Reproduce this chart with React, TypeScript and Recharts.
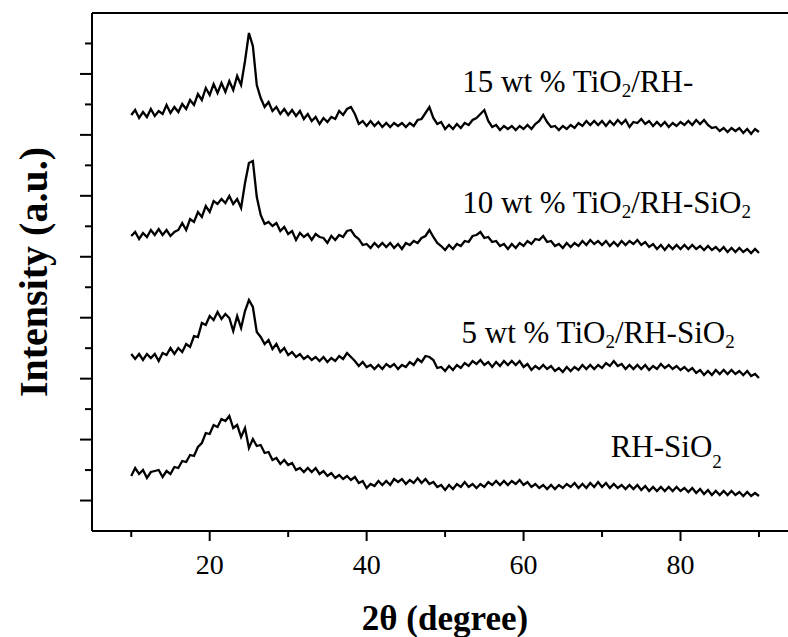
import { LineChart, Line, XAxis, YAxis, ReferenceLine, ReferenceDot } from "recharts";

// 2θ positions (degree), one reading every half degree
const twoTheta = [
  10, 10.5, 11, 11.5, 12, 12.5, 13, 13.5, 14, 14.5,
  15, 15.5, 16, 16.5, 17, 17.5, 18, 18.5, 19, 19.5,
  20, 20.5, 21, 21.5, 22, 22.5, 23, 23.5, 24, 24.5,
  25, 25.5, 26, 26.5, 27, 27.5, 28, 28.5, 29, 29.5,
  30, 30.5, 31, 31.5, 32, 32.5, 33, 33.5, 34, 34.5,
  35, 35.5, 36, 36.5, 37, 37.5, 38, 38.5, 39, 39.5,
  40, 40.5, 41, 41.5, 42, 42.5, 43, 43.5, 44, 44.5,
  45, 45.5, 46, 46.5, 47, 47.5, 48, 48.5, 49, 49.5,
  50, 50.5, 51, 51.5, 52, 52.5, 53, 53.5, 54, 54.5,
  55, 55.5, 56, 56.5, 57, 57.5, 58, 58.5, 59, 59.5,
  60, 60.5, 61, 61.5, 62, 62.5, 63, 63.5, 64, 64.5,
  65, 65.5, 66, 66.5, 67, 67.5, 68, 68.5, 69, 69.5,
  70, 70.5, 71, 71.5, 72, 72.5, 73, 73.5, 74, 74.5,
  75, 75.5, 76, 76.5, 77, 77.5, 78, 78.5, 79, 79.5,
  80, 80.5, 81, 81.5, 82, 82.5, 83, 83.5, 84, 84.5,
  85, 85.5, 86, 86.5, 87, 87.5, 88, 88.5, 89, 89.5,
  90,
];

// stacked intensities (a.u.), already offset as in the figure
const wt15 = [
  416, 421, 413, 419, 414, 422, 415, 420, 417, 426,
  418, 424, 419, 427, 422, 431, 426, 437, 431, 443,
  436, 447, 438, 448, 439, 450, 441, 455, 446, 470,
  498, 485, 446, 433, 424, 429, 420, 424, 417, 422,
  416, 421, 415, 420, 412, 417, 410, 414, 407, 413,
  409, 414, 412, 420, 416, 422, 424, 417, 407, 410,
  405, 410, 405, 409, 404, 408, 404, 408, 405, 408,
  404, 408, 405, 411, 412, 418, 424, 413, 407, 409,
  402, 406, 402, 407, 403, 408, 406, 411, 413, 417,
  421, 410, 404, 406, 401, 405, 402, 405, 401, 405,
  402, 406, 402, 407, 410, 416, 409, 404, 405, 401,
  405, 402, 406, 403, 408, 405, 410, 406, 410, 406,
  410, 405, 410, 406, 411, 407, 411, 404, 409, 408,
  412, 407, 410, 405, 409, 405, 409, 404, 408, 405,
  409, 406, 410, 406, 411, 407, 411, 406, 403, 404,
  400, 403, 399, 403, 400, 403, 398, 402, 397, 402,
  399,
];

const wt10 = [
  295, 299, 292, 298, 294, 301, 296, 302, 296, 301,
  295, 299, 301, 308, 301, 312, 309, 319, 314, 325,
  319, 330, 327, 332, 328, 335, 327, 332, 323, 348,
  368, 370, 334, 316, 307, 309, 305, 308, 300, 304,
  297, 300, 291, 298, 294, 297, 291, 297, 294, 293,
  288, 295, 291, 296, 294, 300, 301, 295, 292, 286,
  287, 283, 288, 284, 288, 284, 288, 283, 287, 282,
  288, 286, 290, 288, 293, 295, 301, 294, 288, 285,
  281, 286, 282, 287, 285, 290, 289, 295, 296, 299,
  293, 294, 289, 290, 285, 287, 282, 287, 283, 288,
  285, 290, 287, 292, 291, 295, 289, 290, 285, 287,
  283, 288, 284, 288, 285, 290, 286, 291, 287, 290,
  286, 290, 285, 289, 285, 290, 286, 290, 287, 291,
  286, 289, 284, 287, 282, 286, 281, 286, 282, 286,
  282, 286, 282, 286, 282, 285, 281, 285, 281, 284,
  280, 284, 279, 283, 279, 283, 279, 282, 278, 282,
  278,
];

const wt5 = [
  177, 172, 177, 171, 177, 173, 177, 170, 178, 176,
  183, 177, 183, 179, 187, 184, 195, 194, 208, 206,
  215, 211, 219, 212, 217, 213, 200, 215, 203, 220,
  231, 224, 199, 194, 187, 191, 182, 187, 179, 183,
  176, 179, 174, 177, 172, 175, 171, 174, 170, 174,
  169, 173, 170, 175, 172, 178, 174, 170, 165, 169,
  164, 166, 162, 166, 162, 167, 164, 167, 162, 166,
  164, 169, 166, 172, 169, 175, 174, 171, 163, 164,
  160, 165, 161, 166, 163, 168, 165, 170, 167, 171,
  166, 169, 164, 169, 165, 170, 166, 170, 166, 170,
  164, 167, 161, 165, 162, 166, 162, 165, 160, 163,
  159, 164, 160, 164, 161, 166, 162, 166, 162, 166,
  163, 168, 165, 170, 165, 167, 162, 166, 162, 166,
  162, 166, 161, 165, 162, 167, 163, 166, 162, 165,
  161, 164, 160, 163, 158, 161, 156, 160, 156, 161,
  157, 161, 157, 161, 157, 160, 156, 160, 155, 157,
  153,
];

const rhSiO2 = [
  55, 63, 57, 61, 53, 59, 60, 61, 54, 60,
  57, 64, 63, 70, 69, 76, 75, 84, 88, 98,
  97, 106, 104, 112, 110, 115, 103, 106, 94, 103,
  83, 92, 85, 86, 78, 79, 71, 73, 67, 71,
  66, 68, 61, 63, 59, 63, 59, 63, 57, 60,
  55, 58, 53, 56, 52, 55, 51, 54, 48, 50,
  43, 47, 45, 50, 46, 50, 46, 52, 49, 52,
  47, 51, 48, 53, 48, 52, 47, 49, 44, 46,
  41, 46, 42, 47, 44, 49, 44, 47, 43, 47,
  44, 49, 46, 50, 46, 50, 46, 50, 47, 51,
  46, 49, 44, 47, 43, 46, 42, 46, 42, 46,
  43, 47, 44, 48, 43, 47, 43, 48, 44, 49,
  44, 48, 43, 47, 43, 46, 42, 46, 42, 46,
  41, 45, 40, 44, 40, 44, 40, 44, 40, 44,
  40, 43, 39, 43, 38, 42, 37, 41, 36, 40,
  36, 40, 36, 40, 36, 39, 35, 39, 35, 38,
  35,
];

const xTicks = [10, 20, 30, 40, 50, 60, 70, 80, 90];
const xTickLabels = ["", "20", "", "40", "", "60", "", "80", ""];
const yMax = 518;
const yTicks = Array.from({ length: 18 }, (_, i) => (i * yMax) / 17);

// curve captions: "_" marks a subscript character
const captions = ["15 wt % TiO_2/RH-", "10 wt % TiO_2/RH-SiO_2", "5 wt % TiO_2/RH-SiO_2", "RH-SiO_2"];
const captionTheta = [52.2, 52.2, 52.1, 71.1];
const captionLevel = [439, 318, 188, 74];

const serif = "'Times New Roman', 'Liberation Serif', serif";

const chartData = twoTheta.map((t, i) => ({
  theta: t,
  wt15: wt15[i],
  wt10: wt10[i],
  wt5: wt5[i],
  rh: rhSiO2[i],
}));

const XTick = (props: any) => {
  const { x, y, payload } = props;
  const i = xTicks.indexOf(payload.value);
  const label = xTickLabels[i];
  const len = label ? 10 : 6;
  return (
    <g>
      <line x1={x} x2={x} y1={y} y2={y + len} stroke="#000" strokeWidth={2} />
      {label && (
        <text x={x} y={y + 43} textAnchor="middle" fontSize={28} fontFamily={serif} fill="#000">
          {label}
        </text>
      )}
    </g>
  );
};

const YTick = (props: any) => {
  const { x, y, payload } = props;
  const i = yTicks.indexOf(payload.value);
  if (i <= 0 || i >= yTicks.length - 1) return <g />;
  const len = i % 2 === 1 ? 12 : 7;
  return <line x1={x - len} x2={x} y1={y} y2={y} stroke="#000" strokeWidth={2} />;
};

const Caption = ({ cx, cy, text, subDrop }: any) => {
  const parts = text.split("_");
  return (
    <text x={cx} y={cy} fontSize={31} fontFamily={serif} fill="#000">
      {parts.map((p: string, k: number) =>
        k === 0 ? (
          <tspan key={k}>{p}</tspan>
        ) : (
          [
            <tspan key={k + "s"} dy={subDrop} fontSize={19}>
              {p[0]}
            </tspan>,
            <tspan key={k + "r"} dy={-subDrop}>
              {p.slice(1)}
            </tspan>,
          ]
        )
      )}
    </text>
  );
};

const App = () => {
  return (
    <div style={{ position: "absolute", left: 0, top: 0, width: 788, height: 637, background: "#fff" }}>
      <LineChart width={788} height={637} data={chartData} margin={{ top: 13, right: 0, bottom: 0, left: 0 }}>
        <XAxis
          dataKey="theta"
          type="number"
          domain={[5, 93.7]}
          allowDataOverflow
          ticks={xTicks}
          interval={0}
          tick={<XTick />}
          tickLine={false}
          tickSize={0}
          tickMargin={0}
          axisLine={{ stroke: "#000", strokeWidth: 2 }}
          height={106}
          label={{
            content: ({ viewBox }: any) => (
              <text
                x={viewBox.x + viewBox.width / 2 + 5}
                y={viewBox.y + 99}
                textAnchor="middle"
                fontSize={35}
                fontWeight="bold"
                fontFamily={serif}
                fill="#000"
              >
                2θ (degree)
              </text>
            ),
          }}
        />
        <YAxis
          type="number"
          domain={[0, yMax]}
          ticks={yTicks}
          interval={0}
          tick={<YTick />}
          tickLine={false}
          tickSize={0}
          tickMargin={0}
          axisLine={{ stroke: "#000", strokeWidth: 2 }}
          width={92}
          label={{
            content: ({ viewBox }: any) => {
              const cx = 47;
              const cy = viewBox.y + viewBox.height / 2;
              return (
                <text
                  x={cx}
                  y={cy}
                  transform={`rotate(-90, ${cx}, ${cy})`}
                  textAnchor="middle"
                  fontSize={40}
                  fontWeight="bold"
                  fontFamily={serif}
                  fill="#000"
                >
                  Intensity (a.u.)
                </text>
              );
            },
          }}
        />
        <ReferenceLine y={yMax} stroke="#000" strokeWidth={2} />
        <Line dataKey="wt15" type="linear" dot={false} stroke="#000" strokeWidth={2.3} isAnimationActive={false} />
        <Line dataKey="wt10" type="linear" dot={false} stroke="#000" strokeWidth={2.3} isAnimationActive={false} />
        <Line dataKey="wt5" type="linear" dot={false} stroke="#000" strokeWidth={2.3} isAnimationActive={false} />
        <Line dataKey="rh" type="linear" dot={false} stroke="#000" strokeWidth={2.3} isAnimationActive={false} />
        {captions.map((c, i) => (
          <ReferenceDot
            key={c}
            x={captionTheta[i]}
            y={captionLevel[i]}
            r={0}
            shape={(p: any) => <Caption cx={p.cx} cy={p.cy} text={c} subDrop={i === 3 ? 11 : 5} />}
          />
        ))}
      </LineChart>
    </div>
  );
};

export default App;
